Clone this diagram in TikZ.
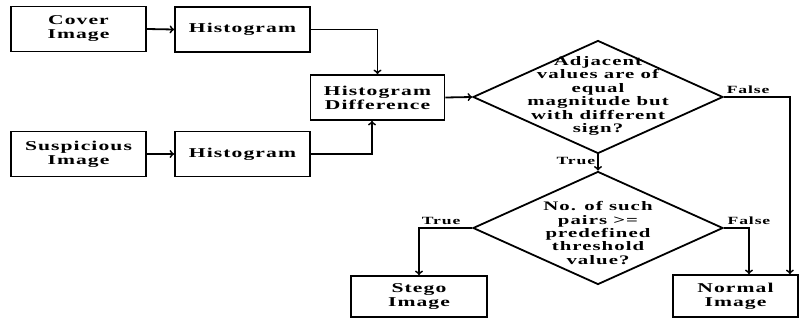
\documentclass[tikz,border=0pt]{standalone}
\usepackage{fontspec}
\setmainfont{Liberation Serif}[FakeStretch=1.6,LetterSpace=8]
\usetikzlibrary{arrows}
\usetikzlibrary{shapes}

\begin{document}
\begin{tikzpicture}[x=1pt,y=-1pt,
    block/.style={draw,line width=1.8pt,minimum width=135pt,minimum height=45pt,align=center,inner sep=0pt,font=\fontsize{13.5}{14}\selectfont\bfseries},
    decision/.style={draw,line width=1.8pt,diamond,minimum width=250pt,minimum height=113pt,inner sep=0pt},
    dtext/.style={align=center,inner sep=0pt,font=\fontsize{13}{13.4}\selectfont\bfseries},
    tag/.style={font=\fontsize{11}{12}\selectfont\bfseries,inner sep=2pt},
    link/.style={line width=1.8pt,->,>=to}]
    \useasboundingbox (0,0) rectangle (800,321);
    \node[block] (cover) at (78.5,29) {Cover\\Image};
    \node[block] (hist1) at (242.5,29.5) {Histogram};
    \node[block,minimum width=134pt] (hdiff) at (377.5,97.5) {Histogram\\Difference};
    \node[block] (susp) at (78.5,154) {Suspicious\\Image};
    \node[block] (hist2) at (242.5,154) {Histogram};
    \node[decision] (adj) at (598,97) {};
    \node[dtext] at ([yshift=1pt]adj) {Adjacent\\values are of\\equal\\magnitude but\\with different\\sign?};
    \node[decision] (pairs) at (598,228) {};
    \node[dtext] at ([yshift=-5pt]pairs) {No. of such\\pairs >=\\predefined\\threshold\\value?};
    \node[block,minimum width=136pt,minimum height=41pt] (stego) at (419,296.5) {Stego\\Image};
    \node[block,minimum width=125pt,minimum height=42pt] (normal) at (735.5,296) {Normal\\Image};

    \draw[link] (cover.east) -- (hist1.west);
    \draw[link] (susp.east) -- (hist2.west);
    \draw[link] (hist1.east) -| (hdiff.north);
    \draw[link] (hist2.east) -| ([xshift=-5.5pt]hdiff.south);
    \draw[link] (hdiff.east) -- (adj.west);
    \draw[link] (adj.east) node[tag,above right]{False} -| ([xshift=-9pt]normal.north east);
    \draw[link] (adj.south) node[tag,below left]{True} -- (pairs.north);
    \draw[link] (pairs.west) -| node[tag,above right,pos=0.5]{True} (stego.north);
    \draw[link] (pairs.east) -| node[tag,above,pos=0.5]{False} ([xshift=13.5pt]normal.north);
\end{tikzpicture}
\end{document}
